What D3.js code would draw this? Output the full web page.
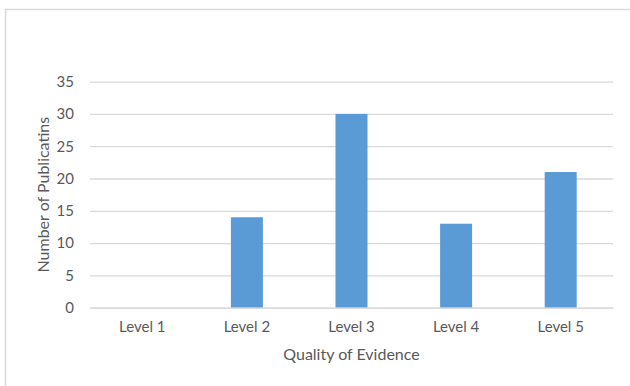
<!DOCTYPE html>
<html>
<head>
<meta charset="utf-8">
<script src="https://cdn.jsdelivr.net/npm/d3@7"></script>
<style>
  html, body { margin: 0; padding: 0; background: #fff; }
  svg { display: block; }
  text { font-family: Lato, "Open Sans", sans-serif; fill: #595959; }
</style>
</head>
<body>
<div id="chart"></div>
<script>
// Publications per evidence level
const categories = ["Level 1", "Level 2", "Level 3", "Level 4", "Level 5"];
const counts = [0, 14, 30, 13, 21];
const yTicks = [0, 5, 10, 15, 20, 25, 30, 35];

const width = 630, height = 386;
const plot = { left: 90, right: 613, top: 81.6, bottom: 307.7 };

const svg = d3.select("#chart").append("svg")
  .attr("width", width)
  .attr("height", height);

// chart area frame (extends past the right and bottom edges)
svg.append("rect")
  .attr("x", 5.5).attr("y", 9.5)
  .attr("width", 700).attr("height", 500)
  .attr("fill", "none")
  .attr("stroke", "#d9d9d9")
  .attr("stroke-width", 1.5);

const x = d3.scaleBand()
  .domain(categories)
  .range([plot.left, plot.right])
  .paddingInner(0.694)
  .paddingOuter(0.347);

const y = d3.scaleLinear()
  .domain([0, 35])
  .range([plot.bottom, plot.top]);

// horizontal gridlines with value labels
const yAxis = d3.axisLeft(y)
  .tickValues(yTicks)
  .tickSize(-(plot.right - plot.left))
  .tickPadding(16)
  .tickFormat(d3.format("d"));

const gy = svg.append("g")
  .attr("transform", `translate(${plot.left},0)`)
  .call(yAxis);
gy.select(".domain").remove();
gy.selectAll(".tick line")
  .attr("stroke", "#d9d9d9")
  .attr("stroke-width", 1.3);
gy.selectAll(".tick text")
  .attr("font-size", 15)
  .attr("fill", "#595959")
  .style("font-family", "Lato, 'Open Sans', sans-serif");

// bars
svg.append("g")
  .selectAll("rect")
  .data(counts)
  .join("rect")
  .attr("x", (d, i) => x(categories[i]))
  .attr("y", d => y(d))
  .attr("width", x.bandwidth())
  .attr("height", d => y(0) - y(d))
  .attr("fill", "#5b9bd5");

// category axis
const xAxis = d3.axisBottom(x).tickSize(0).tickPadding(14);
const gx = svg.append("g")
  .attr("transform", `translate(0,${plot.bottom})`)
  .call(xAxis);
gx.select(".domain")
  .attr("stroke", "#d9d9d9")
  .attr("stroke-width", 1.3);
gx.selectAll(".tick text")
  .attr("font-size", 15)
  .attr("fill", "#595959")
  .style("font-family", "Lato, 'Open Sans', sans-serif");

// axis titles
svg.append("text")
  .attr("x", (plot.left + plot.right) / 2)
  .attr("y", 360)
  .attr("text-anchor", "middle")
  .attr("font-size", 16)
  .text("Quality of Evidence");

svg.append("text")
  .attr("transform", `translate(49,${(plot.top + plot.bottom) / 2}) rotate(-90)`)
  .attr("text-anchor", "middle")
  .attr("font-size", 16)
  .text("Number of Publicatins");
</script>
</body>
</html>
